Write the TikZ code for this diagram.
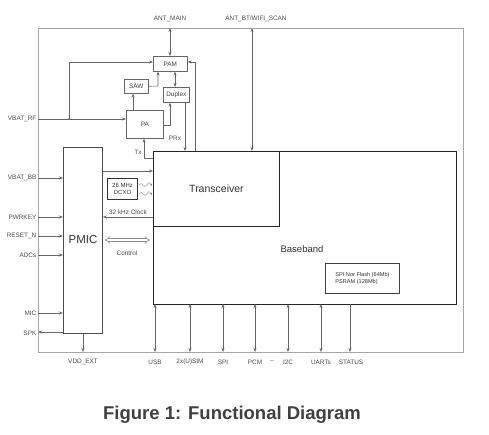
\documentclass[tikz,border=0pt]{standalone}
\usepackage{fontspec}
\setmainfont{Liberation Sans}
\usetikzlibrary{arrows.meta}
\begin{document}
\begin{tikzpicture}[x=1pt,y=-1pt,
  lbl/.style={font=\fontsize{6.4}{7}\selectfont,text=black!70,inner sep=0.5pt},
  blk/.style={draw=black!60,line width=0.6pt,fill=white,inner sep=0pt,font=\fontsize{6.4}{7}\selectfont,text=black!75},
  conn/.style={draw=black!60,line width=0.55pt},
  tip/.tip={Stealth[length=4pt,width=3pt]},
  ar/.style={conn,-tip},
  dar/.style={conn,tip-tip},
  hollow/.style={draw=black!45,double=white,double distance=2pt,line width=0.6pt,{Implies[length=4pt]}-{Implies[length=4pt]}}
]
\useasboundingbox (0,0) rectangle (489,434);
% outer frame
\draw[draw=black!35,line width=0.8pt] (38,28) rectangle (463,352);
% main blocks
\node[draw=black!85,line width=1pt,fill=white,minimum width=303pt,minimum height=153pt,anchor=north west] (bb) at (153,151) {};
\node[draw=black!85,line width=0.9pt,minimum width=126pt,minimum height=75pt,anchor=north west,font=\fontsize{10.5}{12}\selectfont,text=black!80] (tr) at (153,151) {Transceiver};
\node[font=\fontsize{9.5}{11}\selectfont,text=black!80] (bblbl) at (302,249) {Baseband};
\node[draw=black!70,line width=0.8pt,minimum width=39pt,minimum height=186pt,anchor=north west] (pmic) at (63,147) {};
\node[font=\fontsize{11.5}{13}\selectfont,text=black!80] (pmiclbl) at (83,240) {PMIC};
\node[draw=black!75,line width=0.9pt,minimum width=74pt,minimum height=30pt,anchor=north west,align=left,font=\fontsize{5.6}{7}\selectfont,text=black!80] (mem) at (325,263) {SPI Nor Flash (64Mb)\\PSRAM (128Mb)};
% RF blocks
\node[blk,minimum width=34pt,minimum height=15pt,anchor=north west] (pam) at (153,56) {PAM};
\node[blk,minimum width=24pt,minimum height=14pt,anchor=north west] (saw) at (124,79) {SAW};
\node[blk,minimum width=26pt,minimum height=15pt,anchor=north west] (dup) at (163,87) {Duplex};
\node[blk,minimum width=37pt,minimum height=28pt,anchor=north west] (pa) at (126,110) {PA};
\node[draw=black!80,line width=1.1pt,minimum width=30pt,minimum height=21pt,anchor=north west,align=center,font=\fontsize{6}{7}\selectfont,text=black!80,inner sep=0pt] (dcxo) at (107,178) {26 MHz\\DCXO};
% top antennas
\node[lbl] (antm) at (170,19) {ANT\_MAIN};
\node[lbl] (antb) at (256,19) {ANT\_BT/WIFI\_SCAN};
\coordinate (antmf) at (170,28);
\coordinate (antbf) at (252,28);
\draw[dar] (antmf) -- (pam.north -| antmf);
\draw[dar] (antbf) -- (antbf |- bb.north);
% RF connections
\draw[dar] (pam.south -| 175,0) -- (dup.north -| 175,0);
\draw[ar] (saw.east) -- (158,86) -- (pam.south -| 158,0);
\draw[ar] (pa.north -| 133,0) -- (saw.south -| 133,0);
\draw[ar] (pa.east |- 0,125) -- (170,125) -- (dup.south -| 170,0);
\draw[ar] (dup.south -| 185,0) -- (185,151);
\draw[ar] (195,151) -- (195,62) -- (pam.east |- 0,62);
\draw[ar] (153,158) -- (144,158) -- (pa.south -| 144,0);
\node[lbl] (txl) at (138,152) {Tx};
\node[lbl] (prxl) at (175,138) {PRx};
% VBAT_RF
\node[lbl,anchor=east] (vrf) at (37,119) {VBAT\_RF};
\coordinate (vrff) at (38,119);
\draw[ar,line width=0.8pt] (vrff) -- (pa.west |- vrff);
\draw[conn,line width=0.8pt] (69,119) -- (69,62);
\draw[ar,line width=0.8pt] (69,62) -- (pam.west |- 0,62);
\fill[black!60] (69,119) circle (1pt);
% left pins
\foreach \t/\yy/\n in {VBAT\_BB/178/vbb,PWRKEY/217/pwr,RESET\_N/236/rst,ADCs/255/adc,MIC/313/mic}{
  \node[lbl,anchor=east] (\n) at (37,\yy) {\t};
  \draw[ar] (38,\yy) -- (pmic.west |- 0,\yy);
}
\node[lbl,anchor=east] (spk) at (37,333) {SPK};
\draw[ar] (pmic.west |- 0,332) -- (38,332);
% PMIC to baseband
\draw[ar,line width=0.8pt] (pmic.east |- 0,171) -- (bb.west |- 0,171);
\draw[ar,line width=0.8pt] (bb.west |- 0,217) -- (pmic.east |- 0,217);
\node[lbl] (clk) at (128,212) {32 kHz Clock};
\draw[hollow] (105,240) -- (150,240);
\node[lbl] (ctl) at (127,253) {Control};
% DCXO waves
\draw[draw=black!45,line width=0.4pt,-{Stealth[length=2.5pt,width=2.5pt,open]}] (139,185) .. controls (142,180) and (144,190) .. (147,185) .. controls (149,181) and (150,183) .. (152,186);
\draw[draw=black!45,line width=0.4pt,-{Stealth[length=2.5pt,width=2.5pt,open]}] (139,194) .. controls (142,189) and (144,199) .. (147,194) .. controls (149,190) and (150,192) .. (152,195);
% VDD_EXT
\draw[ar,line width=0.9pt] (pmic.south -| 83,0) -- (83,352);
\node[lbl] (vdd) at (83,362) {VDD\_EXT};
% bottom interfaces
\foreach \t/\xx/\n in {USB/155/usb,2x(U)SIM/190/sim,SPI/223/spi,PCM/255/pcm,I2C/288/itc,UARTs/321/uart}{
  \draw[dar] (\xx,304) -- (\xx,352);
  \node[lbl] (\n) at (\xx,362) {\t};
}
\draw[ar] (350,304) -- (350,352);
\node[lbl] (stat) at (351,362) {STATUS};
\node[lbl] (dash) at (272,362) {--};
% caption
\node[font=\bfseries\fontsize{18.5}{20}\selectfont,text=black!75] (cap) at (232,415) {Figure 1: Functional Diagram};
\end{tikzpicture}
\end{document}
